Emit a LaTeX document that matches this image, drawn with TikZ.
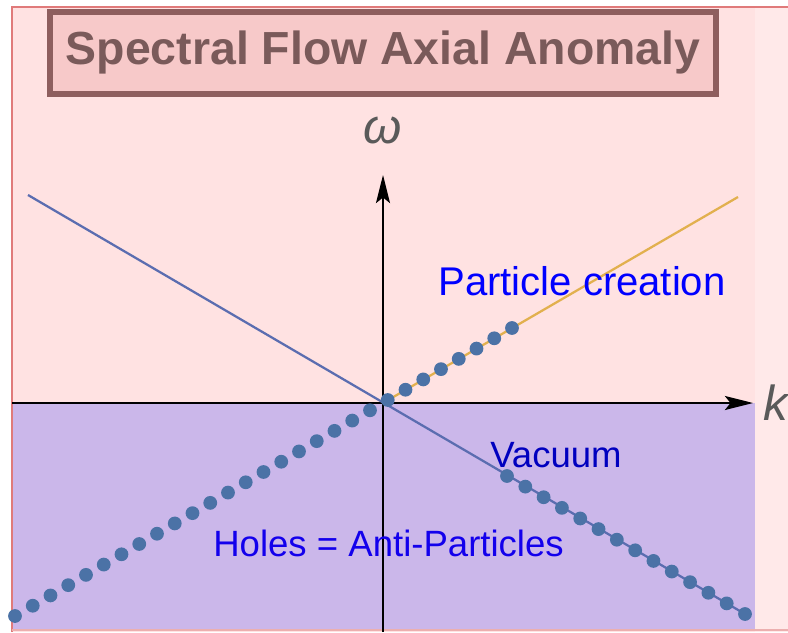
\documentclass[tikz,border=0pt]{standalone}
\usepackage{fontspec}
\setmainfont{Liberation Sans}
\usetikzlibrary{positioning, arrows.meta, calc}
\definecolor{bgpink}{HTML}{FFE2E2}
\definecolor{holelav}{HTML}{CBB7EA}
\definecolor{bandblue}{HTML}{5B6DB0}
\definecolor{beadblue}{HTML}{4B72A6}
\definecolor{creorange}{HTML}{E2B04E}
\definecolor{titlefill}{HTML}{F7C9C9}
\definecolor{titleedge}{HTML}{8E5E5E}
\definecolor{titletext}{HTML}{7A5A5A}
\definecolor{axisgray}{HTML}{5A5A5A}
\definecolor{framered}{HTML}{E07A7A}

\begin{document}
\begin{tikzpicture}[
      x=0.025cm, y=-0.025cm,
      every node/.style={inner sep=0pt},
      band/.style={draw=bandblue, line width=1.6pt},
      bead/.style={fill=beadblue},
      axis/.style={-{Stealth[length=20pt, width=10pt, inset=4pt]}, line width=1.3pt},
      axlabel/.style={text=axisgray, font=\fontsize{35}{38}\selectfont\itshape},
      lbl/.style={anchor=base west, font=\fontsize{26}{30}\selectfont},
      >=Stealth,
    ]
    \useasboundingbox (0,0) rectangle (788,632);
    % background
    \fill[white] (0,0) rectangle (788,632);
    \fill[bgpink] (12,7) rectangle (788,632);
    \fill[bgpink!75!white] (755,7) rectangle (788,632);
    \fill[holelav] (12,403) rectangle (755,629);
    \draw[framered, line width=1.4pt] (788,7) -- (12,7) -- (12,632);
    \draw[framered!60!white, line width=1.4pt] (12,630) -- (788,630);

    % title
    \node[draw=titleedge, line width=3.8pt, fill=titlefill,
          minimum width=16.65cm, minimum height=2.05cm,
          text=titletext, font=\fontsize{33}{36}\selectfont\bfseries]
      (title) at (383,53) {Spectral Flow Axial Anomaly};

    % axes
    \coordinate (O) at (383,403);
    \coordinate (kstart) at (12,403);
    \coordinate (kend) at (753,403);
    \coordinate (wbot) at (383,632);
    \coordinate (wtop) at (383,175);
    \draw[axis] (kstart) -- (kend);
    \draw[axis] (wbot) -- (wtop);
    \node[axlabel] (omega) at (383,130) {ω};
    \node[axlabel, anchor=base west] (klabel) at (763,420) {k};

    % bands
    \coordinate (vacL) at (28,195);
    \coordinate (vacR) at (745,614);
    \coordinate (vacA) at (507,476);
    \coordinate (partL) at (15,616);
    \coordinate (partA) at (512,328);
    \coordinate (partR) at (738,197);
    \draw[band] (vacL) -- (vacR);
    \draw[creorange, line width=1.6pt] (O) -- (partR);
    \foreach \i in {0,...,28}
      \fill[bead] ($(partL)!\i/28!(partA)$) circle (4.9pt);
    \foreach \i in {0,...,13}
      \fill[bead] ($(vacA)!\i/13!(vacR)$) circle (4.9pt);

    % labels
    \node[lbl, text=blue, font=\fontsize{28.5}{32}\selectfont]
      (creation) at (438,295) {Particle creation};
    \node[lbl, text=blue!75!black] (vacuum) at (490,467) {Vacuum};
    \node[lbl, text=blue!85!violet] (holes) at (213,556) {Holes = Anti-Particles};
  \end{tikzpicture}
\end{document}
